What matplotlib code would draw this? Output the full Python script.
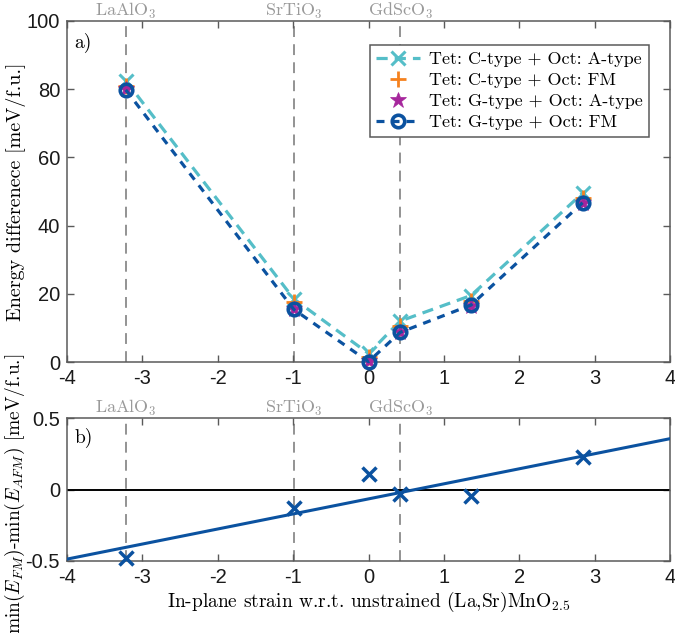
import numpy as np
import matplotlib
matplotlib.use("Agg")
import matplotlib.pyplot as plt

plt.rcParams['font.family'] = ['Liberation Sans', 'DejaVu Sans']
plt.rcParams['mathtext.fontset'] = 'cm'

# ---- data ----
strain = [-3.22, -0.99, 0.0, 0.42, 1.36, 2.84]
tet_c_oct_a = [82.5, 18.5, 2.5, 12.0, 19.5, 49.5]
tet_c_oct_fm = [81.0, 17.5, 1.5, 10.5, 18.0, 48.0]
tet_g_oct_a = [80.0, 15.5, 0.3, 8.8, 16.5, 46.5]
tet_g_oct_fm = [79.8, 15.4, 0.1, 8.7, 16.7, 46.7]
diff_fm_afm = [-0.477, -0.13, 0.106, -0.03, -0.045, 0.225]

substrates = ['LaAlO$_3$', 'SrTiO$_3$', 'GdScO$_3$']
substrate_strain = [-3.22, -0.99, 0.42]

xticks = [-4, -3, -2, -1, 0, 1, 2, 3, 4]
xticklabels = ['-4', '-3', '-2', '-1', '0', '1', '2', '3', '4']
yticks_a = [0, 20, 40, 60, 80, 100]
yticks_b = [-0.5, 0, 0.5]
yticklabels_b = ['-0.5', '0', '0.5']

c_cyan = '#55BEC8'
c_orange = '#F5821F'
c_mag = '#A6269C'
c_blue = '#0B52A0'
spine_c = '#5a5a5a'
serif = 'cmr10'

fig = plt.figure(figsize=(6.75, 6.33), dpi=100)
ax1 = fig.add_axes([67/675, 1-362/633, 603/675, 341/633])
ax2 = fig.add_axes([67/675, 1-561/633, 603/675, 143/633])

for ax in (ax1, ax2):
    ax.set_xlim(-4, 4)
    ax.set_xticks(xticks)
    ax.set_xticklabels(xticklabels)
    ax.tick_params(direction='in', top=True, right=True, labelsize=14.5,
                   color=spine_c, length=5, width=1, pad=5, labelcolor='#1a1a1a')
    for s in ax.spines.values():
        s.set_color(spine_c)
        s.set_linewidth(1.1)
    for xs, name in zip(substrate_strain, substrates):
        ax.axvline(xs, color='#8a8a8a', ls=(0, (6, 4)), lw=1.3, zorder=1)
        ax.annotate(name, xy=(xs, 1), xycoords=ax.get_xaxis_transform(),
                    xytext=(0, 3.5), textcoords='offset points', ha='center',
                    va='baseline', color='#9a9a9a', fontsize=13, fontfamily=serif,
                    annotation_clip=False)

# ---- panel a ----
ax1.set_ylim(0, 100)
ax1.set_yticks(yticks_a)
ax1.plot(strain, tet_c_oct_a, color=c_cyan, ls=(0, (3.5, 2.2)), lw=2.3, marker='x',
         ms=10, mew=2.2, label='Tet: C-type + Oct: A-type', zorder=3, clip_on=False)
ax1.plot(strain, tet_c_oct_fm, color=c_orange, ls='none', marker='+', ms=11, mew=2,
         label='Tet: C-type + Oct: FM', zorder=4, clip_on=False)
ax1.plot(strain, tet_g_oct_a, color=c_mag, ls='none', marker='*', ms=12, mew=0.5,
         label='Tet: G-type + Oct: A-type', zorder=5, clip_on=False)
ax1.plot(strain, tet_g_oct_fm, color=c_blue, ls=(0, (2.5, 2.2)), lw=2.3, marker='o',
         ms=9, mew=2.6, mfc='none', label='Tet: G-type + Oct: FM', zorder=6, clip_on=False)
ax1.set_ylabel('Energy differenece [meV/f.u.]', fontfamily=serif, fontsize=14.5)
ax1.yaxis.set_label_coords(-0.068, 0.5)
ax1.text(0.012, 0.965, 'a)', transform=ax1.transAxes, ha='left', va='top',
         fontfamily=serif, fontsize=14)
leg = ax1.legend(loc='upper right', bbox_to_anchor=(0.98, 0.955), prop={'family': serif, 'size': 13},
                 frameon=True, fancybox=False, edgecolor=spine_c, framealpha=1,
                 handlelength=2.4, borderpad=0.35, labelspacing=0.3, handletextpad=0.5)
leg.get_frame().set_linewidth(1.1)
leg.set_zorder(10)

# ---- panel b ----
ax2.set_ylim(-0.5, 0.5)
ax2.set_yticks(yticks_b)
ax2.set_yticklabels(yticklabels_b)
ax2.axhline(0, color='black', lw=1.4, zorder=2)
coef = np.polyfit(strain, diff_fm_afm, 1)
xfit = np.array(ax2.get_xlim())
ax2.plot(xfit, np.polyval(coef, xfit), color=c_blue, lw=2.2, zorder=3)
ax2.plot(strain, diff_fm_afm, color=c_blue, ls='none', marker='x', ms=10, mew=2.5, zorder=4,
         clip_on=False)
ax2.set_ylabel(r'min($E_{FM}$)-min($E_{AFM}$) [meV/f.u.]', fontfamily=serif, fontsize=14)
ax2.yaxis.set_label_coords(-0.066, 0.47)
ax2.set_xlabel(r'In-plane strain w.r.t. unstrained (La,Sr)MnO$_{2.5}$', fontfamily=serif,
               fontsize=14)
ax2.xaxis.set_label_coords(0.5, -0.2)
ax2.text(0.012, 0.93, 'b)', transform=ax2.transAxes, ha='left', va='top',
         fontfamily=serif, fontsize=14)

fig.savefig('out.png', dpi=100)
